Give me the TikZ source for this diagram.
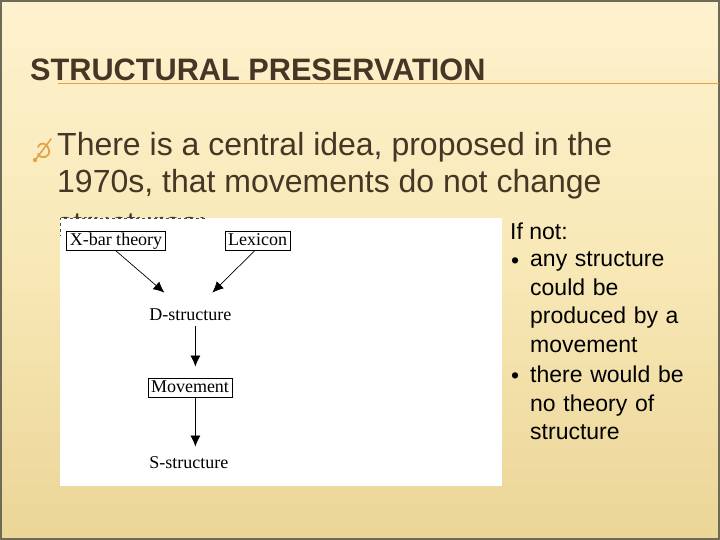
\documentclass[tikz,border=0pt]{standalone}
\usepackage{fontspec}
\setmainfont{Liberation Sans}
\newfontfamily\diagfont{Liberation Serif}
\usetikzlibrary{arrows.meta}

\definecolor{slidetop}{HTML}{FEF2CE}
\definecolor{slidemid}{HTML}{F8E8B6}
\definecolor{slidebot}{HTML}{EBD597}
\definecolor{slideedge}{HTML}{6E6A58}
\definecolor{inkbrown}{HTML}{463625}
\definecolor{rulegold}{HTML}{E6A53A}
\definecolor{quillgold}{HTML}{E2A446}

\begin{document}
\begin{tikzpicture}[x=1pt,y=-1pt, % one unit = one pixel, y going down
    boxed/.style={draw, line width=0.8pt, inner xsep=3pt, inner ysep=1.5pt,
        text height=12.5pt, text depth=4pt, font=\diagfont\fontsize{18}{18}\selectfont},
    plain/.style={boxed, draw=none},
    arr/.style={-{Latex[length=11pt,width=10pt]}, line width=0.7pt},
    bodytext/.style={inner sep=0pt, text=inkbrown, anchor=base west},
    sidetext/.style={inner sep=0pt, anchor=base west, font=\fontsize{23}{28.6}\selectfont}]

        % Slide background and frame
        \fill[top color=slidetop, bottom color=slidebot, middle color=slidemid] (0,0) rectangle (720,540);
        \draw[slideedge, line width=2pt] (1,1) rectangle (719,539);

        % Title with its rule
        \node[bodytext, font=\bfseries\fontsize{31}{31}\selectfont] (title) at (30,81) {\scalebox{0.99}[1]{STRUCTURAL PRESERVATION}};
        \draw[rulegold, line width=1.2pt] (58,83.5) -- (719,83.5);

        % Bullet mark
        \draw[quillgold, line width=1.8pt, line cap=round]
            (38,147) .. controls (41,141) and (47,143) .. (49,150)
            .. controls (51,157) and (41,160) .. (38,154);
        \draw[quillgold, line width=1.6pt, line cap=round] (36,159) -- (51,139);
        \fill[quillgold] (35,160) circle (2.2);

        % Main text (third line lies under the picture)
        \node[bodytext, font=\fontsize{32}{32}\selectfont] (lineone) at (57,156) {There is a central idea, proposed in the};
        \node[bodytext, font=\fontsize{32}{32}\selectfont] (linetwo) at (57,193) {1970s, that movements do not change};
        \begin{scope}
            \clip (50,200) rectangle (300,218);
            \node[bodytext, font=\fontsize{32}{32}\selectfont] (linethree) at (57,234) {structures:};
        \end{scope}

        % Pasted picture
        \fill[white] (60,218) rectangle (502,486);
        \draw[black!70, dashed, line width=0.6pt] (205,218) -- (60,218) -- (60,236);

        \node[boxed] (xbar) at (116,245) [anchor=base] {X-bar theory};
        \node[boxed] (lexicon) at (257.5,245) [anchor=base] {Lexicon};
        \node[plain, anchor=base west] (dstruct) at (146,320) {D-structure};
        \node[boxed] (movement) at (190,392) [anchor=base] {Movement};
        \node[plain, anchor=base west] (sstruct) at (146,468) {S-structure};

        \draw[arr] (xbar.south) -- ([xshift=-26pt,yshift=13pt]dstruct.north);
        \draw[arr] ([xshift=-3pt]lexicon.south) -- ([xshift=22pt,yshift=13pt]dstruct.north);
        \draw[arr, shorten >=11pt] ([xshift=5pt]dstruct.south) -- ([xshift=5pt]dstruct.south |- movement.north);
        \draw[arr, shorten >=7pt] ([xshift=5pt]dstruct.south |- movement.south) -- ([xshift=5pt]dstruct.south |- sstruct.north);

        % Side note
        \node[sidetext] (ifnot) at (510,240) {If not:};
        \node[sidetext] (dotone) at (511,268.6) {\textbullet};
        \node[sidetext, text width=175pt, anchor=north west, align=left] (itemone)
            at (530,251.5) {any structure\\could be\\produced by a\\movement};
        \node[sidetext] (dottwo) at (511,383) {\textbullet};
        \node[sidetext, text width=175pt, anchor=north west, align=left] (itemtwo)
            at (530,365.9) {there would be\\no theory of\\structure};

\end{tikzpicture}
\end{document}
